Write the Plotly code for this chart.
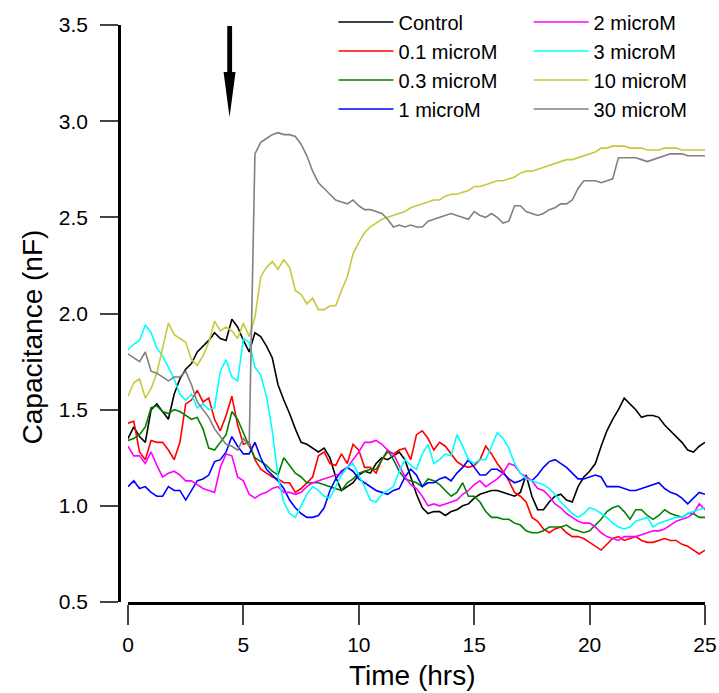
import plotly.graph_objects as go

time_hrs = [i * 0.25 for i in range(101)]

control = [1.35, 1.41, 1.36, 1.33, 1.50, 1.53, 1.49, 1.45, 1.58, 1.66, 1.71, 1.74, 1.80, 1.83, 1.86, 1.90,
           1.87, 1.86, 1.97, 1.93, 1.86, 1.80, 1.90, 1.88, 1.83, 1.77, 1.63, 1.55, 1.48, 1.40, 1.33, 1.32,
           1.30, 1.28, 1.30, 1.25, 1.15, 1.08, 1.10, 1.12, 1.16, 1.18, 1.17, 1.22, 1.25, 1.24, 1.26, 1.28,
           1.24, 1.15, 1.06, 0.99, 0.96, 0.97, 0.97, 0.95, 0.97, 0.98, 1.00, 1.01, 1.04, 1.06, 1.07, 1.08,
           1.08, 1.07, 1.06, 1.05, 1.07, 1.16, 1.05, 0.98, 0.98, 1.02, 1.05, 1.06, 1.03, 1.02, 1.10, 1.15,
           1.18, 1.22, 1.31, 1.39, 1.45, 1.50, 1.56, 1.53, 1.50, 1.46, 1.47, 1.47, 1.46, 1.42, 1.39, 1.36,
           1.33, 1.29, 1.28, 1.31, 1.33]

m0_1 = [1.43, 1.44, 1.28, 1.24, 1.34, 1.33, 1.33, 1.29, 1.24, 1.33, 1.53, 1.55, 1.60, 1.54, 1.56, 1.45,
        1.39, 1.47, 1.57, 1.42, 1.32, 1.33, 1.24, 1.19, 1.17, 1.15, 1.14, 1.12, 1.12, 1.07, 1.09, 1.12,
        1.15, 1.26, 1.28, 1.22, 1.21, 1.27, 1.22, 1.32, 1.29, 1.20, 1.20, 1.17, 1.24, 1.28, 1.27, 1.29,
        1.30, 1.24, 1.37, 1.39, 1.35, 1.29, 1.33, 1.31, 1.27, 1.23, 1.21, 1.20, 1.21, 1.24, 1.31, 1.27,
        1.22, 1.18, 1.13, 1.07, 1.05, 1.02, 0.94, 0.92, 0.88, 0.86, 0.88, 0.89, 0.86, 0.84, 0.84, 0.83,
        0.81, 0.79, 0.77, 0.80, 0.83, 0.84, 0.82, 0.83, 0.84, 0.82, 0.81, 0.81, 0.82, 0.83, 0.82, 0.82,
        0.80, 0.79, 0.77, 0.75, 0.77]

m0_3 = [1.34, 1.35, 1.37, 1.41, 1.51, 1.52, 1.49, 1.48, 1.50, 1.49, 1.47, 1.45, 1.46, 1.40, 1.30, 1.29,
        1.33, 1.37, 1.49, 1.45, 1.38, 1.31, 1.25, 1.23, 1.21, 1.18, 1.16, 1.25, 1.21, 1.17, 1.15, 1.12,
        1.12, 1.12, 1.11, 1.10, 1.09, 1.08, 1.12, 1.14, 1.17, 1.18, 1.19, 1.19, 1.24, 1.29, 1.24, 1.18,
        1.14, 1.13, 1.12, 1.10, 1.14, 1.13, 1.11, 1.08, 1.05, 1.07, 1.12, 1.05, 1.05, 1.02, 0.97, 0.94,
        0.94, 0.93, 0.93, 0.91, 0.90, 0.87, 0.86, 0.86, 0.87, 0.89, 0.89, 0.89, 0.90, 0.88, 0.87, 0.86,
        0.87, 0.90, 0.93, 0.97, 0.99, 1.00, 0.97, 0.93, 0.98, 0.98, 0.95, 0.93, 0.95, 0.98, 0.96, 0.95,
        0.94, 0.96, 0.96, 0.94, 0.94]

m1 = [1.10, 1.13, 1.09, 1.10, 1.07, 1.05, 1.05, 1.10, 1.08, 1.08, 1.03, 1.08, 1.13, 1.14, 1.16, 1.23,
      1.24, 1.28, 1.36, 1.31, 1.27, 1.27, 1.33, 1.25, 1.19, 1.16, 1.13, 1.09, 1.03, 0.99, 0.96, 0.94,
      0.94, 0.95, 0.99, 1.08, 1.14, 1.18, 1.20, 1.18, 1.14, 1.12, 1.10, 1.08, 1.07, 1.06, 1.08, 1.09,
      1.15, 1.19, 1.16, 1.10, 1.12, 1.12, 1.14, 1.15, 1.13, 1.17, 1.20, 1.24, 1.20, 1.16, 1.16, 1.19,
      1.19, 1.17, 1.14, 1.12, 1.13, 1.15, 1.13, 1.16, 1.20, 1.23, 1.24, 1.22, 1.20, 1.17, 1.14, 1.14,
      1.15, 1.16, 1.15, 1.10, 1.10, 1.10, 1.09, 1.08, 1.08, 1.09, 1.10, 1.11, 1.12, 1.09, 1.07, 1.06,
      1.04, 1.01, 1.04, 1.07, 1.06]

m2 = [1.31, 1.26, 1.26, 1.22, 1.28, 1.21, 1.15, 1.17, 1.18, 1.16, 1.13, 1.13, 1.11, 1.09, 1.08, 1.07,
      1.20, 1.27, 1.26, 1.15, 1.13, 1.06, 1.04, 1.06, 1.07, 1.09, 1.10, 1.07, 1.07, 1.06, 1.07, 1.10,
      1.12, 1.13, 1.14, 1.15, 1.16, 1.17, 1.20, 1.24, 1.28, 1.33, 1.33, 1.34, 1.32, 1.29, 1.27, 1.21,
      1.15, 1.11, 1.09, 1.05, 1.00, 1.01, 1.00, 1.01, 1.02, 1.03, 1.06, 1.08, 1.11, 1.13, 1.10, 1.12,
      1.14, 1.17, 1.22, 1.21, 1.17, 1.15, 1.13, 1.09, 1.08, 1.05, 1.01, 0.99, 0.96, 0.94, 0.92, 0.91,
      0.91, 0.89, 0.86, 0.84, 0.83, 0.82, 0.84, 0.84, 0.84, 0.85, 0.86, 0.87, 0.87, 0.88, 0.90, 0.92,
      0.93, 0.94, 0.96, 1.01, 0.98]

m3 = [1.81, 1.84, 1.86, 1.94, 1.90, 1.82, 1.78, 1.72, 1.66, 1.58, 1.55, 1.58, 1.51, 1.53, 1.50, 1.51,
      1.70, 1.76, 1.67, 1.65, 1.87, 1.85, 1.72, 1.68, 1.57, 1.39, 1.15, 1.02, 0.96, 0.94, 1.00, 1.06,
      1.10, 1.08, 1.05, 1.04, 1.10, 1.16, 1.20, 1.22, 1.16, 1.10, 1.03, 1.02, 1.06, 1.08, 1.10, 1.18,
      1.24, 1.21, 1.19, 1.27, 1.32, 1.22, 1.24, 1.27, 1.26, 1.37, 1.31, 1.24, 1.22, 1.24, 1.24, 1.31,
      1.38, 1.35, 1.30, 1.22, 1.17, 1.14, 1.13, 1.12, 1.11, 1.09, 1.06, 1.02, 0.99, 0.96, 0.94, 0.96,
      0.99, 0.98, 0.96, 0.94, 0.91, 0.89, 0.88, 0.89, 0.92, 0.93, 0.94, 0.89, 0.91, 0.92, 0.93, 0.94,
      0.94, 0.96, 0.97, 0.98, 0.99]

m10 = [1.57, 1.64, 1.66, 1.56, 1.61, 1.69, 1.82, 1.95, 1.89, 1.87, 1.85, 1.76, 1.73, 1.78, 1.85, 1.96,
       1.91, 1.93, 1.91, 1.87, 1.95, 1.88, 1.98, 2.19, 2.24, 2.27, 2.23, 2.28, 2.24, 2.12, 2.10, 2.05,
       2.08, 2.02, 2.02, 2.04, 2.04, 2.12, 2.19, 2.31, 2.37, 2.42, 2.45, 2.47, 2.49, 2.50, 2.51, 2.52,
       2.53, 2.55, 2.56, 2.57, 2.58, 2.59, 2.59, 2.61, 2.62, 2.62, 2.63, 2.64, 2.66, 2.66, 2.67, 2.68,
       2.69, 2.69, 2.70, 2.71, 2.73, 2.74, 2.74, 2.75, 2.76, 2.77, 2.78, 2.79, 2.80, 2.80, 2.81, 2.82,
       2.83, 2.84, 2.86, 2.86, 2.87, 2.87, 2.87, 2.86, 2.86, 2.86, 2.85, 2.85, 2.85, 2.86, 2.86, 2.86,
       2.85, 2.85, 2.85, 2.85, 2.85]

m30 = [1.79, 1.77, 1.75, 1.80, 1.70, 1.69, 1.67, 1.65, 1.67, 1.67, 1.70, 1.63, 1.54, 1.50, 1.46, 1.40,
       1.36, 1.32, 1.31, 1.29, 1.35, 1.31, 2.83, 2.89, 2.91, 2.93, 2.94, 2.93, 2.93, 2.92, 2.88, 2.82,
       2.74, 2.68, 2.65, 2.62, 2.59, 2.58, 2.57, 2.59, 2.56, 2.54, 2.54, 2.53, 2.52, 2.49, 2.45, 2.46,
       2.45, 2.46, 2.45, 2.45, 2.48, 2.49, 2.50, 2.51, 2.52, 2.51, 2.50, 2.49, 2.53, 2.51, 2.50, 2.52,
       2.50, 2.47, 2.48, 2.56, 2.56, 2.53, 2.52, 2.51, 2.52, 2.54, 2.55, 2.57, 2.57, 2.59, 2.65, 2.69,
       2.69, 2.69, 2.68, 2.69, 2.70, 2.81, 2.81, 2.81, 2.81, 2.80, 2.79, 2.80, 2.81, 2.82, 2.83, 2.83,
       2.83, 2.82, 2.82, 2.82, 2.82]

series_names = ["Control", "0.1 microM", "0.3 microM", "1 microM",
                "2 microM", "3 microM", "10 microM", "30 microM"]
series_values = [control, m0_1, m0_3, m1, m2, m3, m10, m30]
series_colors = ["#000000", "#FF0000", "#008000", "#0000FF",
                 "#FF00FF", "#00FFFF", "#C8C83C", "#808080"]
legend_groups = ["legend", "legend", "legend", "legend",
                 "legend2", "legend2", "legend2", "legend2"]

x_ticks = [0, 5, 10, 15, 20, 25]
y_ticks = [0.5, 1.0, 1.5, 2.0, 2.5, 3.0, 3.5]

FONT = "Liberation Sans, Arial, sans-serif"

fig = go.Figure()
for name, vals, col, lg in zip(series_names, series_values, series_colors, legend_groups):
    fig.add_trace(go.Scatter(x=time_hrs, y=vals, mode="lines", name=name,
                             line=dict(color=col, width=1.6), legend=lg))

# arrow marker (treatment addition)
fig.add_shape(type="path", xref="x", yref="y",
              path="M 4.30 3.495 L 4.51 3.495 L 4.51 3.256 L 4.66 3.256 L 4.40 3.02 L 4.14 3.256 L 4.30 3.256 Z",
              fillcolor="black", line=dict(color="black", width=0))

fig.add_annotation(text="Capacitance (nF)", xref="paper", yref="paper", x=-0.147, y=0.46,
                   textangle=-90, showarrow=False, font=dict(family=FONT, size=28, color="black"),
                   xanchor="center", yanchor="middle")
fig.add_annotation(text="Time (hrs)", xref="paper", yref="paper", x=0.5, y=-0.128,
                   showarrow=False, font=dict(family=FONT, size=28, color="black"),
                   xanchor="center", yanchor="middle")

fig.update_layout(
    width=719, height=693,
    margin=dict(l=119, r=14, t=25, b=91, autoexpand=False),
    paper_bgcolor="white", plot_bgcolor="white",
    font=dict(family=FONT, size=21, color="black"),
    legend=dict(x=0.366, y=1.039, xanchor="left", yanchor="top", bgcolor="rgba(0,0,0,0)",
                font=dict(family=FONT, size=20, color="black"), tracegroupgap=0, itemwidth=55),
    legend2=dict(x=0.699, y=1.039, xanchor="left", yanchor="top", bgcolor="rgba(0,0,0,0)",
                 font=dict(family=FONT, size=20, color="black"), tracegroupgap=0, itemwidth=55),
    xaxis=dict(range=[0, 25], domain=[9 / 586, 1], tickvals=x_ticks, ticktext=[str(v) for v in x_ticks],
               showgrid=False, zeroline=False, showline=True, linecolor="black", linewidth=2.5,
               ticks="outside", ticklen=20, tickwidth=2, tickcolor="#444444",
               ticklabelstandoff=2, tickfont=dict(family=FONT, size=21, color="black")),
    yaxis=dict(range=[0.5, 3.5], anchor="free", position=0, tickvals=y_ticks,
               ticktext=["%.1f" % v for v in y_ticks],
               showgrid=False, zeroline=False, showline=True, linecolor="black", linewidth=2.5,
               ticks="outside", ticklen=18, tickwidth=2, tickcolor="#444444",
               ticklabelstandoff=8, tickfont=dict(family=FONT, size=21, color="black")),
    showlegend=True,
)

fig.write_html("out.html")
